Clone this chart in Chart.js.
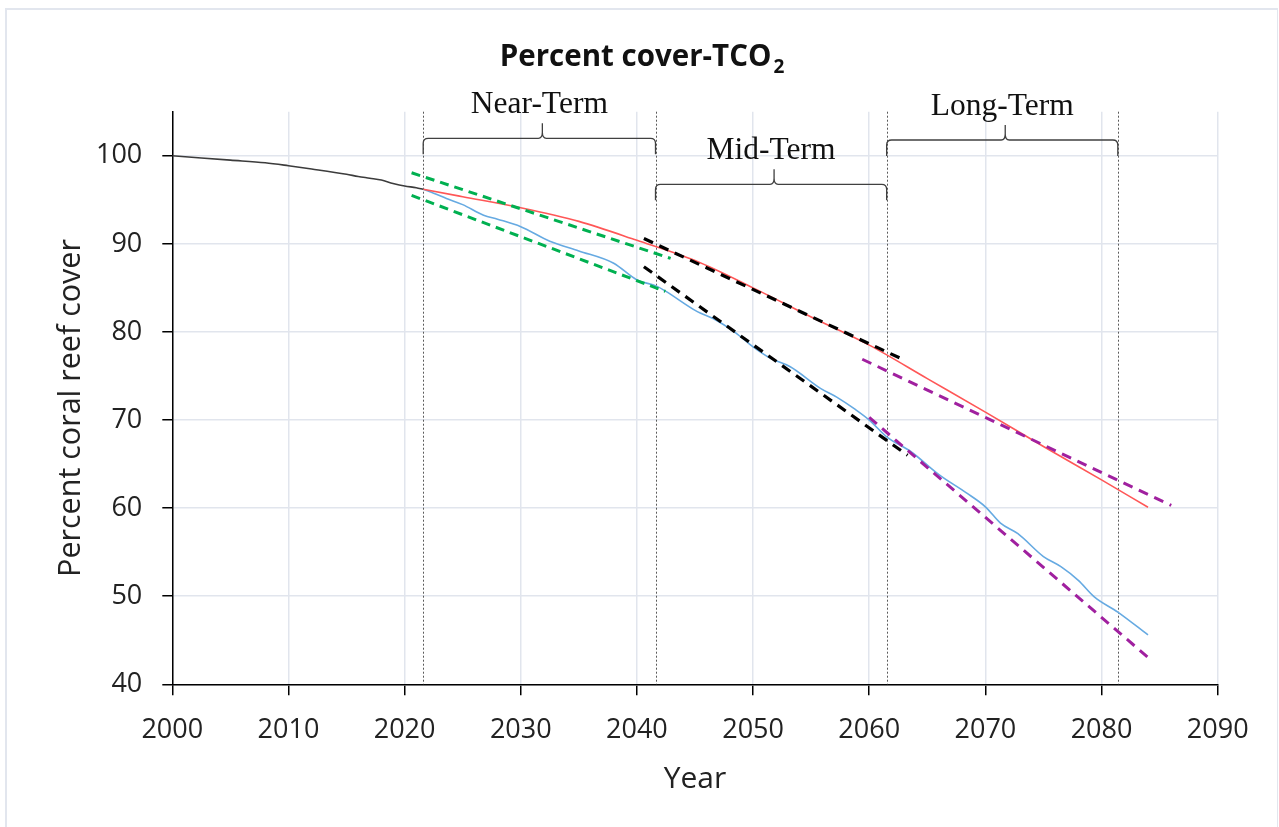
<!DOCTYPE html>
<html>
<head>
<meta charset="utf-8">
<title>Percent cover-TCO2</title>
<script src="https://cdn.jsdelivr.net/npm/chart.js@4.4.1/dist/chart.umd.min.js"></script>
<style>
  html, body { margin: 0; padding: 0; background: #ffffff; }
  body { width: 1279px; height: 827px; overflow: hidden; position: relative; }
  #frame {
    position: absolute; left: 5px; top: 8px; width: 1270px; height: 840px;
    border-top: 2px solid #e2e6ee; border-left: 2px solid #e2e6ee; border-right: 1px solid #e2e6ee;
  }
  #wrap { position: absolute; left: 0; top: 0; width: 1279px; height: 827px; }
</style>
</head>
<body>
<div id="frame"></div>
<div id="wrap"><canvas id="chart" width="1279" height="827"></canvas></div>
<script>
// Observed coral cover, 2000 to present
const histYears = [2000, 2005, 2008, 2010, 2012, 2015, 2016, 2017, 2018, 2019, 2020, 2021, 2021.6];
const histCover = [100, 99.5, 99.2, 98.87, 98.5, 97.9, 97.65, 97.45, 97.24, 96.86, 96.56, 96.37, 96.2];

// Projection with slower decline
const slowYears = [2021.6, 2025, 2030, 2035, 2040, 2045, 2050, 2055, 2060, 2065, 2070, 2075, 2080, 2084];
const slowCover = [96.2, 95.35, 94.1, 92.55, 90.4, 88.1, 85.0, 81.7, 78.5, 74.7, 70.9, 67.0, 63.2, 60.1];

// Projection with faster decline
const fastYears = [2021.6, 2022.5, 2023.6, 2025, 2026.8, 2028, 2030, 2032.5, 2035, 2038, 2040, 2041.7, 2042.5,
                   2045.2, 2046.6, 2048.5, 2050, 2051.5, 2053.2, 2055.8, 2057.2, 2058.8, 2060, 2061.5, 2063.6,
                   2066, 2068.4, 2070, 2071.3, 2072.8, 2075, 2076.5, 2078, 2079.4, 2081.4, 2084];
const fastCover = [96.2, 95.75, 95.15, 94.45, 93.25, 92.8, 91.95, 90.3, 89.2, 87.8, 85.9, 85.2, 84.6,
                   82.3, 81.5, 79.9, 78.3, 77.0, 76.05, 73.6, 72.6, 71.2, 70.0, 68.1, 66.4,
                   63.8, 61.7, 60.15, 58.3, 57.1, 54.5, 53.35, 51.8, 49.9, 48.2, 45.6];

// Linear trends fitted per term (start and end of each segment)
const nearUpperYears = [2020.6, 2042.9];  const nearUpperCover = [98.07, 88.35];
const nearLowerYears = [2020.6, 2042.45]; const nearLowerCover = [95.5, 84.6];
const midUpperYears  = [2040.6, 2062.7];  const midUpperCover  = [90.6, 77.0];
const midLowerYears  = [2040.6, 2063.3];  const midLowerCover  = [87.4, 66.0];
const longUpperYears = [2059.4, 2086.0];  const longUpperCover = [76.9, 60.3];
const longLowerYears = [2060.0, 2084.4];  const longLowerCover = [70.3, 42.6];

// Term boundaries and names
const termBounds = [2021.6, 2041.6, 2061.5, 2081.4];
const termNames = ['Near-Term', 'Mid-Term', 'Long-Term'];

// Axis ticks
const yearTicks = [2000, 2010, 2020, 2030, 2040, 2050, 2060, 2070, 2080, 2090];
const coverTicks = [40, 50, 60, 70, 80, 90, 100];

const SANS = '"Open Sans", "Noto Sans", sans-serif';
const SERIF = '"Liberation Serif", "DejaVu Serif", serif';

function pts(xs, ys) { return xs.map((x, i) => ({ x: x, y: ys[i] })); }

function solid(data, color, width) {
  return { data: data, borderColor: color, borderWidth: width, showLine: true, pointRadius: 0,
           cubicInterpolationMode: 'monotone', fill: false, order: 2 };
}
function dashed(data, color, width, dash) {
  return { data: data, borderColor: color, borderWidth: width, borderDash: dash, showLine: true,
           pointRadius: 0, fill: false, order: 1, borderCapStyle: 'butt' };
}

// Brace row offsets below the top of the plot area, one per term
const braceDrop = [26.6, 72.6, 28.3];

function drawBrace(ctx, x0, x1, y, mid) {
  const r = 5, end = 16, tip = 15;
  ctx.beginPath();
  ctx.moveTo(x0, y + end);
  ctx.lineTo(x0, y + r);
  ctx.quadraticCurveTo(x0, y, x0 + r, y);
  ctx.lineTo(mid - 4, y);
  ctx.quadraticCurveTo(mid, y, mid, y - 6);
  ctx.lineTo(mid, y - tip);
  ctx.moveTo(mid, y - 6);
  ctx.quadraticCurveTo(mid, y, mid + 4, y);
  ctx.lineTo(x1 - r, y);
  ctx.quadraticCurveTo(x1, y, x1, y + r);
  ctx.lineTo(x1, y + end);
  ctx.stroke();
}

const termAnnotations = {
  id: 'termAnnotations',
  beforeDatasetsDraw(chart) {
    const { ctx, chartArea, scales: { x } } = chart;
    ctx.save();
    ctx.strokeStyle = '#5a5a5a';
    ctx.lineWidth = 1;
    ctx.setLineDash([2, 2]);
    termBounds.forEach(b => {
      const px = Math.round(x.getPixelForValue(b)) + 0.5;
      ctx.beginPath();
      ctx.moveTo(px, chartArea.top);
      ctx.lineTo(px, chartArea.bottom);
      ctx.stroke();
    });
    ctx.restore();
  },
  afterDraw(chart) {
    const { ctx, chartArea, scales: { x } } = chart;
    ctx.save();
    // braces and term labels
    ctx.strokeStyle = '#404040';
    ctx.lineWidth = 1.3;
    ctx.fillStyle = '#111';
    ctx.font = '31.5px ' + SERIF;
    ctx.textAlign = 'center';
    ctx.textBaseline = 'alphabetic';
    termNames.forEach((name, i) => {
      const x0 = x.getPixelForValue(termBounds[i]);
      const x1 = x.getPixelForValue(termBounds[i + 1]);
      const y = chartArea.top + braceDrop[i];
      const mid = (x0 + x1) / 2 + 3;
      drawBrace(ctx, x0, x1, y, mid);
      ctx.fillText(name, (x0 + x1) / 2, y - 25);
    });
    // chart title with subscript
    const main = 'Percent cover-TCO', sub = '2';
    ctx.fillStyle = '#111';
    ctx.textAlign = 'left';
    ctx.font = 'bold 29.5px ' + SANS;
    const wMain = ctx.measureText(main).width;
    ctx.font = 'bold 19px ' + SANS;
    const wSub = ctx.measureText(sub).width;
    const cx = 642;
    const left = cx - (wMain + wSub + 2) / 2;
    ctx.font = 'bold 29.5px ' + SANS;
    ctx.fillText(main, left, 65.5);
    ctx.font = 'bold 19px ' + SANS;
    ctx.fillText(sub, left + wMain + 2, 73);
    // vertical axis title
    ctx.translate(80, 408);
    ctx.rotate(-Math.PI / 2);
    ctx.textAlign = 'center';
    ctx.fillStyle = '#222';
    ctx.font = '30.5px ' + SANS;
    ctx.fillText('Percent coral reef cover', 0, 0);
    ctx.restore();
  }
};

new Chart(document.getElementById('chart'), {
  type: 'scatter',
  data: {
    datasets: [
      solid(pts(histYears, histCover), '#3c3c3c', 1.6),
      solid(pts(slowYears, slowCover), '#ff5757', 1.6),
      solid(pts(fastYears, fastCover), '#66aae2', 1.6),
      dashed(pts(nearUpperYears, nearUpperCover), '#00b050', 3, [9, 6]),
      dashed(pts(nearLowerYears, nearLowerCover), '#00b050', 3, [9, 6]),
      dashed(pts(midUpperYears, midUpperCover), '#000000', 3.2, [10, 7]),
      dashed(pts(midLowerYears, midLowerCover), '#000000', 3.2, [10, 7]),
      dashed(pts(longUpperYears, longUpperCover), '#a0209f', 3, [10, 7]),
      dashed(pts(longLowerYears, longLowerCover), '#a0209f', 3, [10, 7])
    ]
  },
  options: {
    responsive: false,
    animation: false,
    devicePixelRatio: 1,
    layout: { padding: { left: 0, top: 111.7, right: 61.3, bottom: 0 } },
    plugins: { legend: { display: false }, tooltip: { enabled: false }, title: { display: false } },
    scales: {
      x: {
        type: 'linear',
        min: yearTicks[0],
        max: yearTicks[yearTicks.length - 1],
        afterBuildTicks: s => { s.ticks = yearTicks.map(v => ({ value: v })); },
        afterFit: s => { s.height = 142.7; },
        border: { color: '#000', width: 1.5 },
        grid: { color: '#e1e5ed', lineWidth: 1.5, tickLength: 11, tickColor: '#000', tickWidth: 1.5 },
        ticks: { callback: v => String(v), color: '#222', padding: 19, font: { family: SANS, size: 27 } },
        title: { display: true, text: 'Year', color: '#222', font: { family: SANS, size: 30 },
                 padding: { top: 0, bottom: 29.5 } }
      },
      y: {
        type: 'linear',
        min: 40,
        max: 105,
        afterBuildTicks: s => { s.ticks = coverTicks.map(v => ({ value: v })); },
        afterFit: s => { s.width = 172.3; },
        border: { color: '#000', width: 1.5 },
        grid: { color: '#e1e5ed', lineWidth: 1.5, tickLength: 10, tickColor: '#000', tickWidth: 1.5 },
        ticks: { color: '#222', padding: 20, font: { family: SANS, size: 27 } },
        title: { display: false }
      }
    }
  },
  plugins: [termAnnotations]
});
</script>
</body>
</html>
